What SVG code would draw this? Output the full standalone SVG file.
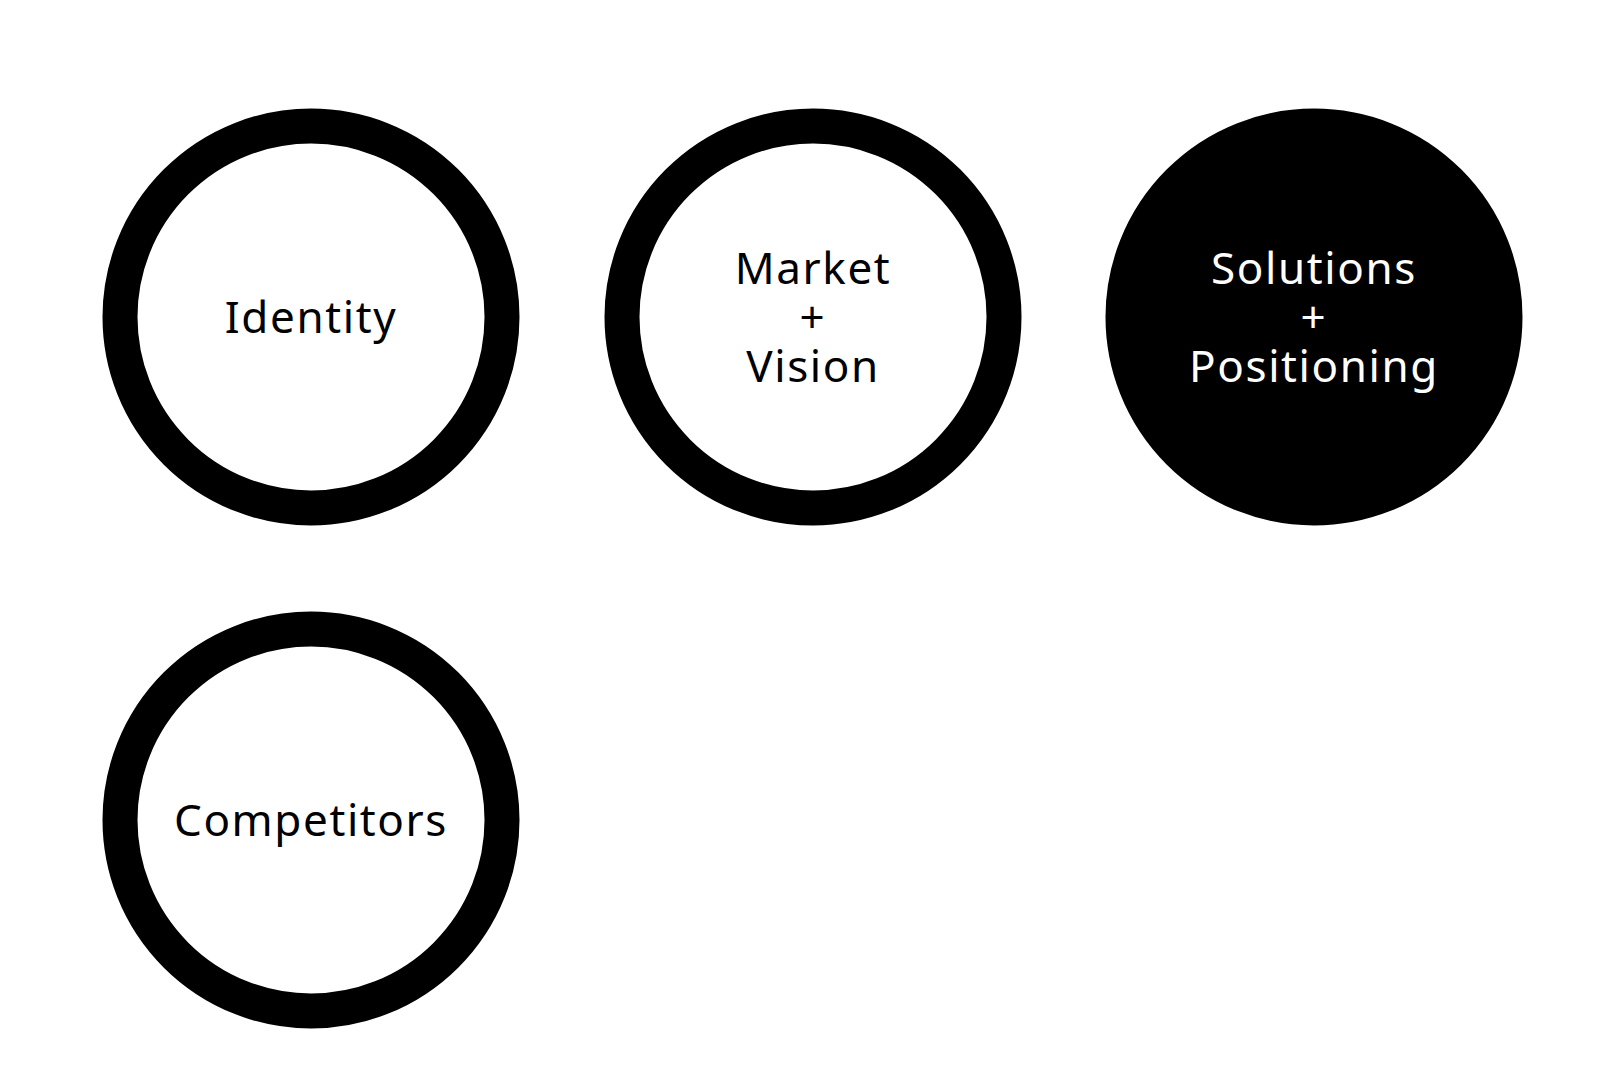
<svg xmlns="http://www.w3.org/2000/svg" width="1620" height="1080" viewBox="0 0 1620 1080">
<style>
.c{fill:#fff;stroke:#000;stroke-width:35}
.f{fill:#000;stroke:#000;stroke-width:35}
text{font-family:"Noto Sans","Open Sans",sans-serif;font-size:44px;letter-spacing:1.6px;text-anchor:middle;fill:#000}
.w{fill:#fff}
</style>
<rect width="1620" height="1080" fill="#fff"/>
<g id="identity"><circle class="c" cx="311" cy="317" r="191"/><text x="311" y="333">Identity</text></g>
<g id="market"><circle class="c" cx="813" cy="317" r="191"/><text x="813" y="284">Market</text><text x="813" y="333">+</text><text x="813" y="382">Vision</text></g>
<g id="solutions"><circle class="f" cx="1314" cy="317" r="191"/><text class="w" x="1314" y="284">Solutions</text><text class="w" x="1314" y="333">+</text><text class="w" x="1314" y="382">Positioning</text></g>
<g id="competitors"><circle class="c" cx="311" cy="820" r="191"/><text x="311" y="836">Competitors</text></g>
<g id="connectors"/>
</svg>
